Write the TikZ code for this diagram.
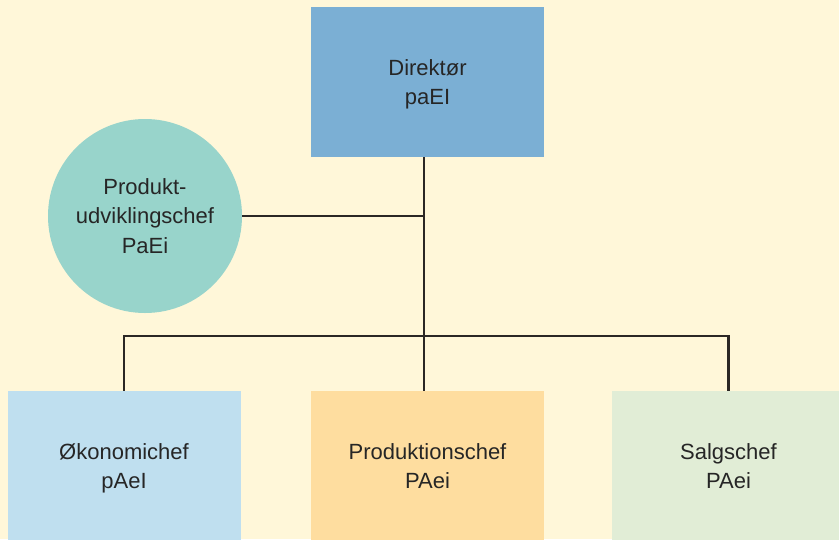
\documentclass[tikz,border=0pt]{standalone}
\usepackage{fontspec}
\setmainfont{Liberation Sans}
\definecolor{paper}{HTML}{FFF7D9}
\definecolor{chiefblue}{HTML}{7BAFD4}
\definecolor{devteal}{HTML}{98D4CB}
\definecolor{finblue}{HTML}{BFDFEF}
\definecolor{prodorange}{HTML}{FEDD9F}
\definecolor{salesgreen}{HTML}{E1EDD6}
\definecolor{wire}{HTML}{2B2725}
% fixed first-line height and last-line depth so every label sits alike
\newcommand{\toprule}{\rule{0pt}{22pt}}
\newcommand{\botrule}{\rule[-6.5pt]{0pt}{6.5pt}}
\tikzset{
  labeltext/.style={align=center, text=black!85, font=\fontsize{22}{29.5}\selectfont},
  rolebox/.style={rectangle, minimum width=233pt, minimum height=150pt, inner sep=0pt, labeltext},
  rolecircle/.style={circle, minimum size=194pt, inner sep=0pt, fill=devteal, labeltext},
  wireline/.style={draw=wire, line width=2.4pt}
}
\begin{document}
\begin{tikzpicture}[x=1pt,y=-1pt]
  \useasboundingbox (0,0) rectangle (839,539);
  \clip (0,0) rectangle (839,539);
  \fill[paper] (0,0) rectangle (839,539);

  % top of the organisation
  \node[rolebox, fill=chiefblue] (dir) at (427.5,82) {\toprule Direktør\\paEI\botrule};
  % staff function beside the line
  \node[rolecircle] (pu) at (145,216) {\toprule Produkt-\\udviklingschef\\PaEi\botrule};
  % line functions
  \node[rolebox, fill=finblue] (oek) at (124,466) {\toprule Økonomichef\\pAeI\botrule};
  \node[rolebox, fill=prodorange] (prod) at (427.5,466) {\toprule Produktionschef\\PAei\botrule};
  \node[rolebox, fill=salesgreen] (salg) at (728.5,466) {\toprule Salgschef\\PAei\botrule};

  % junction points on the trunk
  \coordinate (stafftap) at (424,216);
  \coordinate (bus) at (424,336);

  \draw[wireline] (dir.south -| bus) -- (prod.north -| bus);
  \draw[wireline] (pu.east) -- (stafftap);
  \draw[wireline] (oek.north) |- (bus) -| (salg.north);
\end{tikzpicture}
\end{document}
